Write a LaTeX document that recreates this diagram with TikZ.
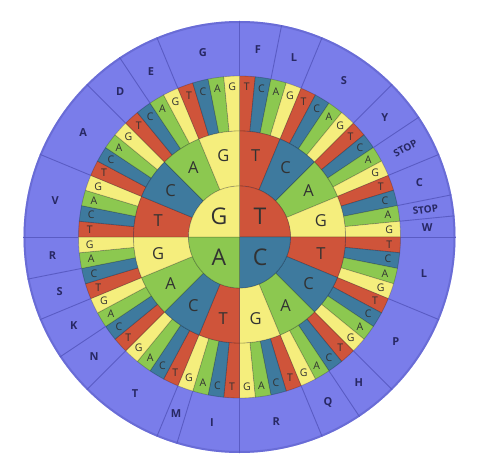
\documentclass[tikz,border=0pt]{standalone}
\usepackage{fontspec}
\setmainfont{Open Sans}
\usepackage{tikz}

\definecolor{ntT}{RGB}{207,84,58}
\definecolor{ntC}{RGB}{62,122,158}
\definecolor{ntA}{RGB}{140,200,80}
\definecolor{ntG}{RGB}{245,238,125}
\definecolor{aaring}{RGB}{122,125,234}
\definecolor{aaline}{RGB}{90,92,196}
\definecolor{aatext}{RGB}{40,40,100}
\definecolor{nttext}{RGB}{50,50,50}

\tikzset{
  wedge/.style={draw=black, draw opacity=0.2, line width=0.8pt},
  ntlabel/.style={text=nttext, inner sep=0pt},
  aalabel/.style={text=aatext, inner sep=0pt}
}

\begin{document}
\begin{tikzpicture}
\useasboundingbox (-239.5pt,-236pt) rectangle (238.5pt,237pt);
% amino acid ring
\fill[aaring] (0,0) circle (216pt);
\draw[aaline, line width=2pt, opacity=0.5] (0,0) circle (215pt);
% first, second and third base
\foreach \p [count=\i from 0] in {T,C,A,G} {
  \pgfmathsetmacro\aI{90-90*\i}
  \foreach \q [count=\j from 0] in {T,C,A,G} {
    \pgfmathsetmacro\aJ{\aI-22.5*\j}
    \foreach \r [count=\k from 0] in {T,C,A,G} {
      \pgfmathsetmacro\aK{\aJ-5.625*\k}
      \draw[wedge, fill=nt\r] (\aK:106pt) -- (\aK:161pt)
        arc[start angle=\aK, delta angle=-5.625, radius=161pt]
        -- ({\aK-5.625}:106pt)
        arc[start angle=\aK-5.625, delta angle=5.625, radius=106pt] -- cycle;
      \node[ntlabel, font=\fontsize{10.5}{12}\selectfont] (\p\q\r) at ({\aK-2.8125}:150pt) {\r};
    }
    \draw[wedge, fill=nt\q] (\aJ:51pt) -- (\aJ:106pt)
      arc[start angle=\aJ, delta angle=-22.5, radius=106pt]
      -- ({\aJ-22.5}:51pt)
      arc[start angle=\aJ-22.5, delta angle=22.5, radius=51pt] -- cycle;
    \node[ntlabel, font=\fontsize{16.5}{18}\selectfont] (\p\q) at ({\aJ-11.25}:83pt) {\q};
  }
  \draw[wedge, fill=nt\p] (0,0) -- (\aI:51pt)
    arc[start angle=\aI, delta angle=-90, radius=51pt] -- cycle;
  \node[ntlabel, font=\fontsize{23}{26}\selectfont] (\p) at ({\aI-45}:29pt) {\p};
}
% amino acids: first codon, number of codons, name, rotated or not
\foreach \s/\c/\l/\t [count=\n] in {0/2/F/0, 2/2/L/0, 4/4/S/0, 8/2/Y/0, 10/2/STOP/1,
    12/2/C/0, 14/1/STOP/1, 15/1/W/0, 16/4/L/0, 20/4/P/0, 24/2/H/0, 26/2/Q/0,
    28/4/R/0, 32/3/I/0, 35/1/M/0, 36/4/T/0, 40/2/N/0, 42/2/K/0, 44/2/S/0,
    46/2/R/0, 48/4/V/0, 52/4/A/0, 56/2/D/0, 58/2/E/0, 60/4/G/0} {
  \pgfmathsetmacro\aS{90-5.625*\s}
  \pgfmathsetmacro\aM{90-5.625*(\s+\c/2)}
  \pgfmathsetmacro\fs{11-\t}
  \draw[aaline, line width=0.9pt] (\aS:161pt) -- (\aS:216pt);
  \node[aalabel, rotate=\t*\aM, font=\fontsize{\fs}{12}\selectfont\bfseries] (aa\n) at (\aM:188pt) {\l};
}
\end{tikzpicture}
\end{document}
